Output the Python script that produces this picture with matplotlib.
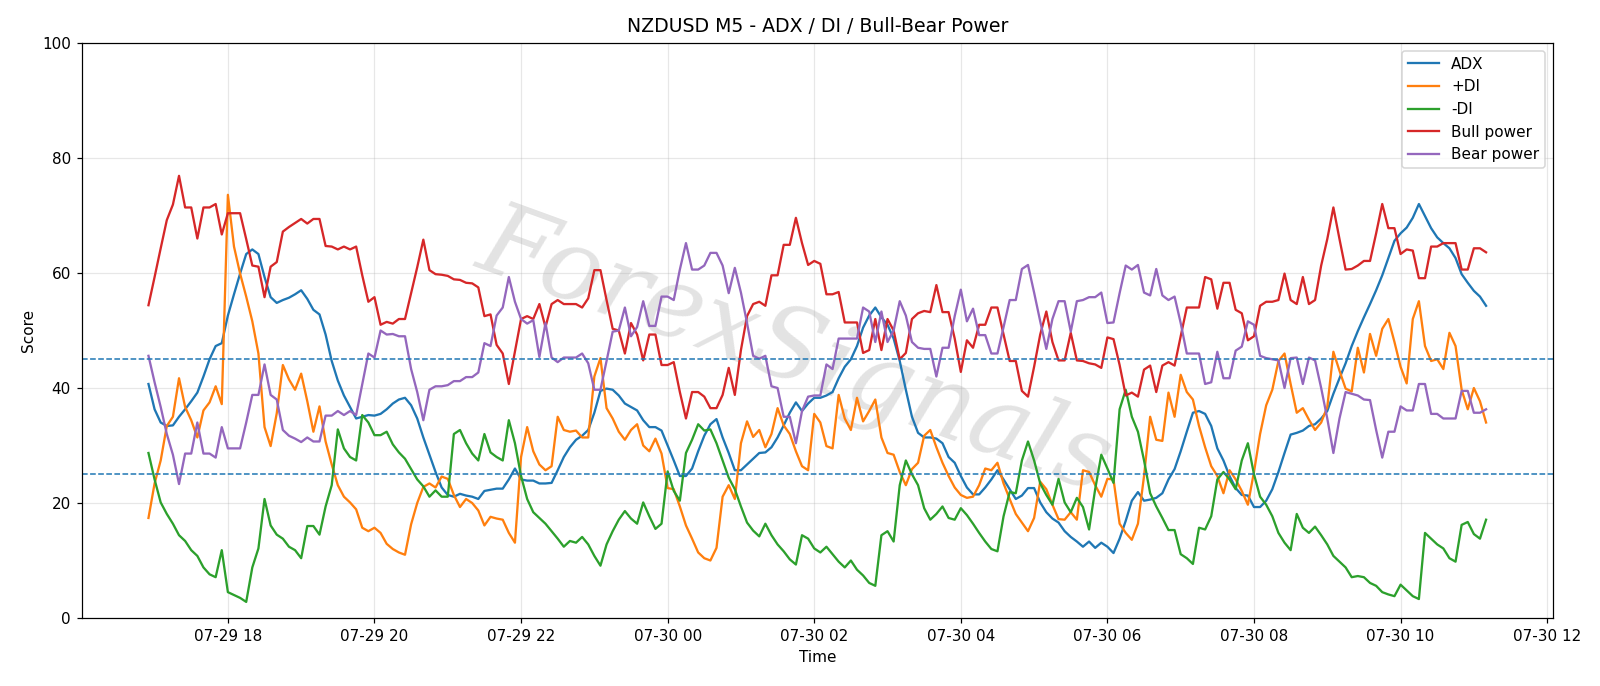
import matplotlib
matplotlib.use("Agg")
import matplotlib.pyplot as plt
import pandas as pd

start_time = "2025-07-29 16:55"
n_points = 220

adx = [40.7, 36.3, 34.0, 33.4, 33.5, 35.0, 36.3, 37.7, 39.2, 42.0, 45.0, 47.3, 47.8, 52.6, 56.3, 59.9, 63.3, 64.1, 63.3, 59.3, 55.8, 54.8,
       55.3, 55.7, 56.3, 57.0, 55.5, 53.6, 52.8, 49.3, 44.7, 41.3, 38.7, 36.7, 34.7, 35.0, 35.3, 35.2, 35.5, 36.3, 37.3, 38.0, 38.3, 37.0,
       34.7, 31.4, 28.4, 25.4, 22.7, 21.4, 21.1, 21.6, 21.3, 21.1, 20.7, 22.1, 22.3, 22.5, 22.5, 24.1, 26.0, 24.1, 23.9, 23.9, 23.4, 23.4,
       23.5, 25.7, 28.0, 29.7, 31.0, 31.7, 32.7, 35.7, 39.5, 39.9, 39.7, 38.7, 37.3, 36.7, 36.1, 34.4, 33.2, 33.2, 32.6, 30.0, 27.4, 24.7,
       24.7, 26.0, 29.0, 31.7, 33.7, 34.6, 31.4, 28.7, 25.7, 25.7, 26.7, 27.7, 28.7, 28.8, 29.7, 31.4, 33.5, 35.7, 37.5, 36.0, 37.3, 38.3,
       38.3, 38.7, 39.3, 41.7, 43.7, 45.0, 47.3, 50.5, 52.6, 54.0, 52.3, 51.0, 48.6, 44.7, 39.7, 35.0, 32.2, 31.4, 31.4, 31.2, 30.4, 28.0,
       27.0, 24.7, 22.7, 21.5, 21.5, 22.7, 24.1, 25.7, 24.1, 22.4, 20.7, 21.3, 22.6, 22.6, 20.1, 18.4, 17.3, 16.6, 15.1, 14.1, 13.3, 12.4,
       13.3, 12.2, 13.1, 12.4, 11.3, 13.8, 16.9, 20.4, 21.9, 20.4, 20.6, 20.9, 21.7, 24.1, 25.9, 29.0, 32.4, 35.7, 36.0, 35.5, 33.4, 29.5,
       27.4, 24.7, 22.6, 21.4, 21.3, 19.3, 19.3, 20.4, 22.4, 25.4, 28.7, 31.9, 32.2, 32.6, 33.4, 33.7, 34.7, 36.0, 39.0, 41.7, 44.3, 47.3,
       49.9, 52.3, 54.6, 57.0, 59.6, 62.6, 65.6, 66.9, 67.9, 69.6, 72.0, 69.9, 67.8, 66.2, 65.2, 64.3, 62.6, 59.8, 58.3, 56.9, 55.9, 54.3]

plus_di = [17.4, 23.4, 27.4, 33.4, 35.0, 41.7, 36.7, 34.4, 31.4, 36.1, 37.5, 40.3, 37.2, 73.6, 64.6, 59.9, 55.9, 51.6, 46.0, 33.2, 29.9, 35.6,
           44.0, 41.5, 39.7, 42.5, 37.7, 32.4, 36.8, 30.7, 26.7, 23.1, 21.1, 20.1, 18.9, 15.7, 15.1, 15.7, 14.8, 12.9, 12.0, 11.4, 11.0, 16.3,
           20.0, 22.8, 23.4, 22.7, 24.6, 24.2, 21.4, 19.3, 20.7, 20.0, 18.7, 16.1, 17.6, 17.3, 17.1, 14.8, 13.1, 28.0, 33.2, 29.0, 26.7, 25.7,
           26.4, 35.0, 32.7, 32.4, 32.6, 31.4, 31.4, 42.0, 45.2, 36.5, 34.7, 32.4, 31.0, 32.7, 33.7, 30.0, 29.0, 31.2, 28.6, 22.6, 22.4, 19.4,
           16.1, 13.8, 11.4, 10.4, 10.0, 12.2, 21.1, 23.1, 20.7, 30.4, 34.2, 31.5, 32.7, 29.7, 32.0, 36.5, 33.5, 32.0, 29.0, 26.4, 25.7, 35.5,
           34.0, 29.9, 29.5, 38.8, 34.7, 32.7, 38.3, 34.2, 36.0, 38.0, 31.4, 28.7, 28.4, 25.4, 23.1, 25.9, 27.0, 31.7, 32.7, 29.7, 27.0, 24.7,
           22.7, 21.4, 20.9, 21.1, 23.1, 26.0, 25.7, 27.0, 23.4, 20.7, 18.1, 16.6, 15.1, 17.4, 23.7, 22.4, 19.7, 17.2, 17.1, 18.4, 17.1, 25.7,
           25.4, 23.1, 21.1, 24.2, 24.1, 16.4, 14.8, 13.6, 16.4, 24.7, 35.0, 31.0, 30.8, 39.2, 35.0, 42.3, 39.3, 38.0, 33.4, 29.7, 26.4, 24.7,
           21.7, 25.7, 24.1, 22.1, 19.7, 25.4, 32.0, 37.0, 39.7, 44.7, 46.0, 40.7, 35.7, 36.5, 34.5, 32.7, 34.0, 36.7, 46.3, 43.0, 39.9, 39.4,
           47.0, 42.7, 49.4, 45.6, 50.3, 52.0, 48.0, 43.7, 40.8, 52.0, 55.1, 47.3, 44.7, 45.0, 43.3, 49.6, 47.3, 39.7, 36.3, 40.0, 37.7, 34.0]

minus_di = [28.7, 24.1, 20.1, 18.1, 16.4, 14.4, 13.4, 11.8, 10.8, 8.8, 7.6, 7.1, 11.8, 4.5, 4.0, 3.5, 2.8, 8.8, 12.1, 20.7, 16.1, 14.5,
            13.8, 12.4, 11.8, 10.4, 16.0, 16.0, 14.5, 19.4, 23.1, 32.8, 29.5, 28.0, 27.4, 35.3, 34.0, 31.8, 31.8, 32.4, 30.2, 28.8, 27.7, 25.9,
            24.1, 22.9, 21.1, 22.2, 21.1, 21.1, 32.0, 32.7, 30.4, 28.6, 27.4, 32.0, 28.8, 28.0, 27.4, 34.4, 30.4, 24.7, 20.7, 18.4, 17.4, 16.4,
            15.1, 13.8, 12.4, 13.4, 13.1, 14.1, 12.8, 10.8, 9.1, 12.8, 15.1, 17.1, 18.6, 17.3, 16.4, 20.1, 17.7, 15.5, 16.4, 25.5, 22.1, 20.4,
            28.7, 31.0, 33.7, 32.6, 32.8, 30.4, 27.4, 24.4, 22.4, 19.4, 16.6, 15.2, 14.2, 16.4, 14.4, 12.8, 11.6, 10.2, 9.3, 14.4, 13.8, 12.1,
            11.4, 12.4, 11.1, 9.8, 8.8, 10.0, 8.4, 7.4, 6.1, 5.6, 14.4, 15.1, 13.3, 23.1, 27.4, 25.0, 23.1, 19.1, 17.1, 18.1, 19.4, 17.4,
            17.1, 19.1, 17.9, 16.4, 14.8, 13.3, 12.0, 11.6, 17.7, 21.9, 21.7, 27.4, 30.7, 27.4, 23.4, 21.4, 19.7, 24.2, 20.1, 18.4, 20.9, 19.3,
            15.4, 22.4, 28.4, 26.0, 23.5, 36.3, 39.7, 35.0, 32.4, 27.4, 21.7, 19.4, 17.4, 15.3, 15.3, 11.1, 10.4, 9.4, 15.7, 15.4, 17.7, 24.1,
            25.4, 24.1, 22.4, 27.4, 30.4, 25.0, 21.1, 19.7, 17.7, 14.8, 13.1, 11.8, 18.1, 15.7, 14.8, 15.9, 14.4, 12.8, 10.8, 9.8, 8.8, 7.1,
            7.3, 7.1, 6.1, 5.6, 4.5, 4.1, 3.8, 5.8, 4.8, 3.8, 3.3, 14.8, 13.8, 12.8, 12.1, 10.4, 9.8, 16.2, 16.7, 14.6, 13.8, 17.1]

bull_power = [54.4, 59.3, 64.3, 69.2, 71.9, 76.9, 71.4, 71.4, 66.0, 71.4, 71.4, 72.0, 66.7, 70.4, 70.4, 70.4, 65.9, 61.3, 61.1, 55.8, 61.1, 61.9,
              67.2, 68.0, 68.7, 69.4, 68.6, 69.4, 69.4, 64.7, 64.6, 64.1, 64.6, 64.1, 64.6, 59.6, 55.0, 55.8, 51.0, 51.5, 51.2, 52.0, 52.0, 56.5,
              61.0, 65.8, 60.5, 59.8, 59.7, 59.5, 58.9, 58.8, 58.3, 58.2, 57.5, 52.5, 52.8, 47.5, 46.0, 40.7, 46.3, 52.0, 52.5, 52.0, 54.6, 50.6,
              54.6, 55.3, 54.6, 54.6, 54.6, 54.0, 55.6, 60.5, 60.5, 55.3, 50.3, 50.0, 46.0, 51.3, 49.3, 44.8, 49.3, 49.3, 44.0, 44.0, 44.5, 39.3,
              34.7, 39.3, 39.3, 38.5, 36.5, 36.5, 38.8, 43.5, 38.8, 46.6, 52.5, 54.6, 55.0, 54.3, 59.6, 59.6, 64.9, 64.9, 69.6, 65.2, 61.4, 62.1,
              61.6, 56.3, 56.3, 56.7, 51.4, 51.4, 51.4, 46.1, 46.6, 52.0, 46.6, 52.0, 50.0, 45.0, 46.1, 52.0, 53.0, 53.4, 53.2, 57.9, 53.2, 53.2,
              48.6, 42.8, 48.3, 47.0, 51.0, 51.0, 54.0, 54.0, 49.3, 44.7, 44.7, 39.5, 38.5, 43.7, 49.3, 53.3, 48.0, 44.8, 44.8, 49.6, 44.8, 44.7,
              44.3, 44.1, 43.5, 48.8, 48.5, 44.0, 38.7, 39.2, 38.5, 43.2, 43.9, 39.3, 43.9, 44.5, 43.9, 49.0, 54.0, 54.0, 54.0, 59.3, 58.9, 53.8,
              58.3, 58.3, 53.6, 53.0, 48.3, 49.0, 54.3, 55.0, 55.0, 55.3, 59.9, 55.3, 54.6, 59.3, 54.6, 55.3, 61.3, 65.9, 71.4, 65.9, 60.6, 60.7,
              61.3, 62.1, 62.1, 66.9, 72.0, 67.8, 67.8, 63.3, 64.1, 63.9, 59.1, 59.1, 64.6, 64.6, 65.2, 65.2, 65.2, 60.6, 60.6, 64.3, 64.3, 63.6]

bear_power = [45.6, 41.0, 36.7, 32.0, 28.4, 23.3, 28.6, 28.6, 34.0, 28.6, 28.6, 27.9, 33.2, 29.5, 29.5, 29.5, 34.0, 38.8, 38.8, 44.1, 38.8, 38.0,
              32.7, 31.7, 31.2, 30.6, 31.4, 30.7, 30.7, 35.2, 35.2, 36.0, 35.3, 36.0, 35.3, 40.7, 46.0, 45.3, 50.0, 49.3, 49.4, 49.0, 49.0, 43.3,
              39.3, 34.4, 39.7, 40.3, 40.3, 40.5, 41.2, 41.2, 41.9, 41.9, 42.7, 47.8, 47.3, 52.6, 54.0, 59.3, 55.0, 52.0, 51.2, 51.8, 45.4, 51.3,
              45.3, 44.5, 45.3, 45.3, 45.3, 46.0, 44.3, 39.7, 39.7, 44.7, 49.8, 50.0, 54.0, 49.0, 50.6, 55.1, 50.8, 50.8, 55.9, 55.9, 55.3, 60.6,
              65.2, 60.6, 60.6, 61.3, 63.5, 63.5, 61.3, 56.5, 60.9, 56.6, 51.3, 45.6, 45.1, 45.6, 40.3, 40.0, 35.0, 35.0, 30.4, 36.0, 38.5, 38.7,
              38.7, 44.1, 43.3, 48.6, 48.6, 48.6, 48.6, 54.0, 53.3, 48.0, 53.3, 48.0, 50.0, 55.1, 52.6, 48.0, 47.0, 46.8, 46.8, 42.0, 47.0, 47.0,
              52.5, 57.1, 51.6, 53.8, 49.2, 49.2, 46.0, 46.0, 50.6, 55.3, 55.3, 60.7, 61.4, 56.6, 51.6, 46.8, 52.0, 55.1, 55.1, 49.8, 55.1, 55.3,
              55.8, 55.8, 56.6, 51.3, 51.4, 56.5, 61.3, 60.6, 61.4, 56.6, 56.1, 60.7, 56.1, 55.3, 55.9, 51.3, 46.0, 46.0, 46.0, 40.7, 41.0, 46.3,
              41.7, 41.7, 46.5, 47.2, 51.6, 51.0, 45.6, 45.2, 45.0, 44.8, 40.0, 45.2, 45.3, 40.7, 45.3, 44.8, 40.0, 34.7, 28.7, 34.7, 39.3, 39.0,
              38.7, 38.0, 37.9, 32.7, 27.9, 32.4, 32.4, 36.8, 36.1, 36.1, 40.7, 40.7, 35.5, 35.5, 34.7, 34.7, 34.7, 39.5, 39.5, 35.7, 35.7, 36.3]

levels = [25, 45]
series_labels = ["ADX", "+DI", "-DI", "Bull power", "Bear power"]
title = "NZDUSD M5 - ADX / DI / Bull-Bear Power"

times = pd.date_range(start_time, periods=n_points, freq="5min")

DPI = 110
fig = plt.figure(figsize=(1600 / DPI, 686 / DPI), dpi=DPI)
ax = fig.add_axes([0.051, 0.0991, 0.9196, 0.8382])

for vals, lab in zip([adx, plus_di, minus_di, bull_power, bear_power], series_labels):
    ax.plot(times, vals, label=lab, linewidth=1.5)

for lv in levels:
    ax.axhline(lv, color="C0", linestyle="--", linewidth=1.0)

ax.text(0.485, 0.46, "ForexSignals", transform=ax.transAxes, fontsize=66,
        color="gray", alpha=0.22, rotation=-20, ha="center", va="center",
        family="DejaVu Serif", fontstyle="italic", zorder=0)

ax.set_ylim(0, 100)
ax.grid(True, alpha=0.3)
ax.set_title(title, fontsize=12.4, pad=7)
ax.set_xlabel("Time")
ax.set_ylabel("Score")
ax.legend(loc="upper right")

fig.savefig("out.png", dpi=DPI)
